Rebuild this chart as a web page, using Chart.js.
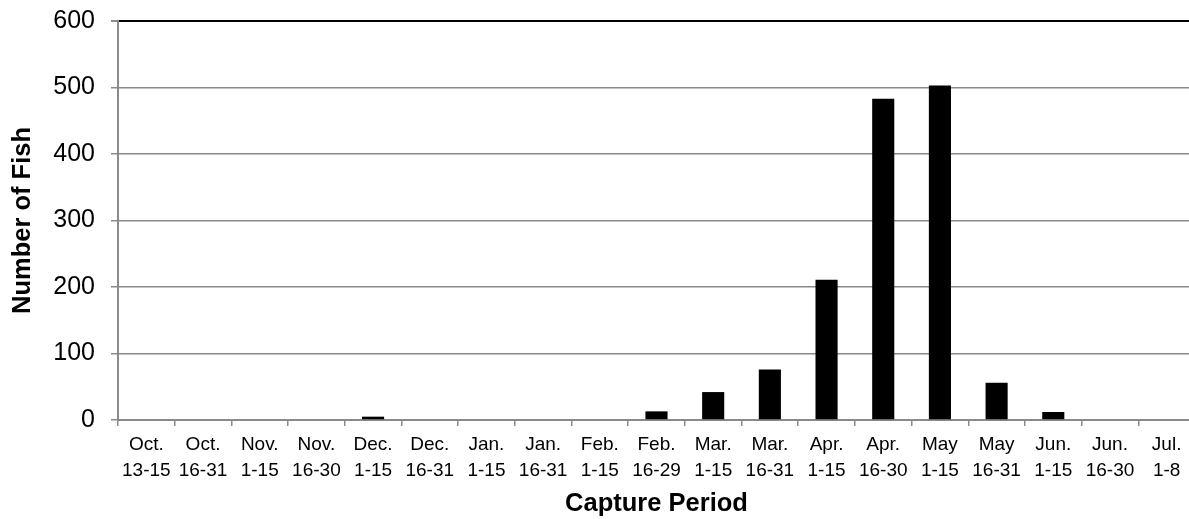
<!DOCTYPE html>
<html>
<head>
<meta charset="utf-8">
<script src="https://cdn.jsdelivr.net/npm/chart.js@4"></script>
<style>
html,body{margin:0;padding:0;background:#fff;overflow:hidden;}
#wrap{width:1189px;height:519px;position:relative;overflow:hidden;}
</style>
</head>
<body>
<div id="wrap"><canvas id="c" width="1195" height="519"></canvas></div>
<script>
const categories = [
  ['Oct.','13-15'],['Oct.','16-31'],['Nov.','1-15'],['Nov.','16-30'],
  ['Dec.','1-15'],['Dec.','16-31'],['Jan.','1-15'],['Jan.','16-31'],
  ['Feb.','1-15'],['Feb.','16-29'],['Mar.','1-15'],['Mar.','16-31'],
  ['Apr.','1-15'],['Apr.','16-30'],['May','1-15'],['May','16-31'],
  ['Jun.','1-15'],['Jun.','16-30'],['Jul.','1-8']
];
const fishCounts = [0,0,0,0,5,0,0,0,0,13,42,76,211,483,503,56,12,0,0];
const yTicks = [0,100,200,300,400,500,600];
const xTitle = 'Capture Period';
const yTitle = 'Number of Fish';

const FONT = "'Liberation Sans', Arial, sans-serif";
const GRID = '#8a8a8a';

new Chart(document.getElementById('c'), {
  type: 'bar',
  data: {
    labels: categories,
    datasets: [{
      data: fishCounts,
      backgroundColor: '#000',
      borderWidth: 0,
      barPercentage: 0.39,
      categoryPercentage: 1.0
    }]
  },
  options: {
    responsive: false,
    animation: false,
    devicePixelRatio: 1,
    layout: { padding: { top: 21, right: 0, bottom: 0, left: 0 } },
    plugins: { legend: { display: false }, tooltip: { enabled: false } },
    scales: {
      x: {
        offset: true,
        grid: {
          offset: true,
          drawOnChartArea: false,
          drawTicks: true,
          tickLength: 6,
          tickColor: GRID,
          lineWidth: 1.5
        },
        border: { color: GRID, width: 2 },
        ticks: {
          color: '#000',
          font: { family: FONT, size: 19, lineHeight: 1.37 },
          padding: 6,
          maxRotation: 0,
          autoSkip: false
        },
        title: {
          display: true,
          text: xTitle,
          color: '#000',
          font: { family: FONT, size: 25.5, weight: 'bold' },
          padding: { top: 0, bottom: 0 }
        },
        afterFit(scale) { scale.height = 99; scale.paddingLeft = 0; scale.paddingRight = 0; }
      },
      y: {
        min: 0,
        max: 600,
        afterBuildTicks(scale) { scale.ticks = yTicks.map(v => ({ value: v })); },
        grid: {
          color: (ctx) => (ctx.tick && ctx.tick.value === 600) ? '#000' : GRID,
          lineWidth: (ctx) => (ctx.tick && ctx.tick.value === 600) ? 2 : 1.5,
          tickColor: GRID,
          tickLength: 7,
          drawTicks: true
        },
        border: { color: GRID, width: 2 },
        ticks: {
          color: '#000',
          font: { family: FONT, size: 25 },
          padding: 16
        },
        title: {
          display: true,
          text: yTitle,
          color: '#000',
          font: { family: FONT, size: 25.5, weight: 'bold' },
          padding: { top: 8, bottom: 0 }
        },
        afterFit(scale) { scale.width = 118; scale.paddingTop = 0; scale.paddingBottom = 0; }
      }
    }
  }
});
</script>
</body>
</html>
